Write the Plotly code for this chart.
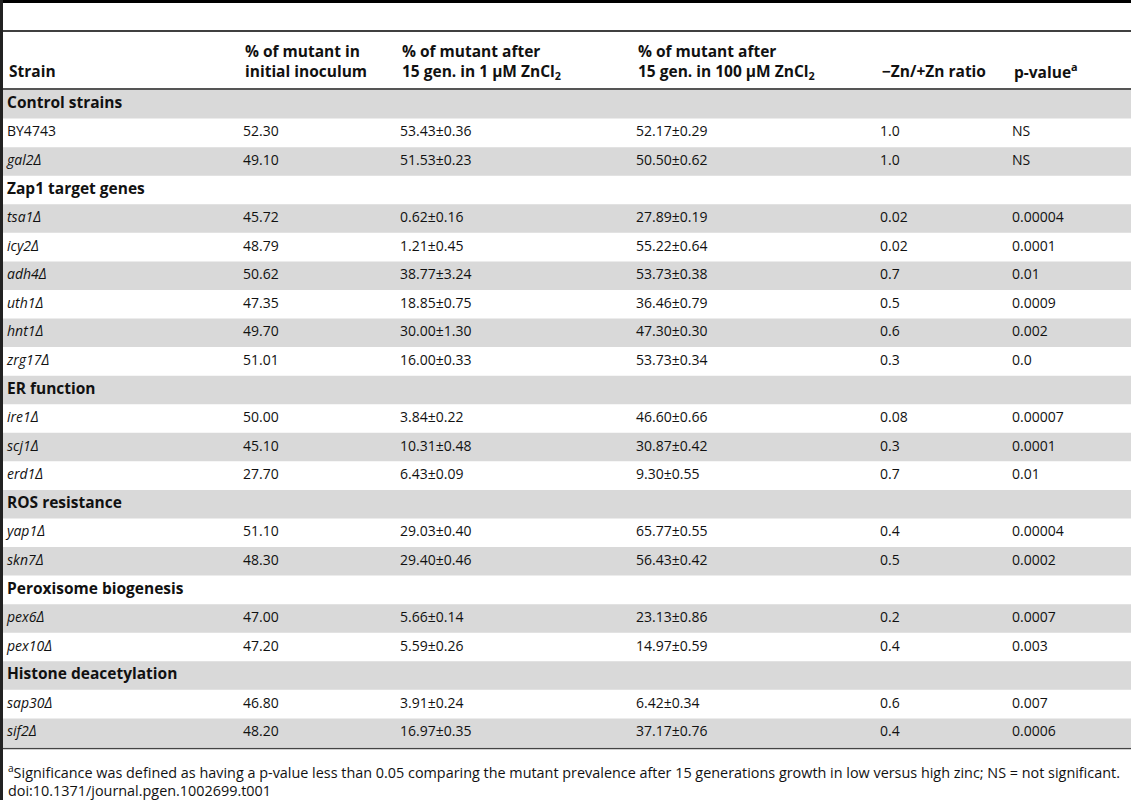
import plotly.graph_objects as go

# Table data
group_names = ["Control strains", "Zap1 target genes", "ER function",
               "ROS resistance", "Peroxisome biogenesis", "Histone deacetylation"]
strain = ["BY4743", "gal2Δ",
          "tsa1Δ", "icy2Δ", "adh4Δ", "uth1Δ", "hnt1Δ", "zrg17Δ",
          "ire1Δ", "scj1Δ", "erd1Δ",
          "yap1Δ", "skn7Δ",
          "pex6Δ", "pex10Δ",
          "sap30Δ", "sif2Δ"]
group = [0, 0, 1, 1, 1, 1, 1, 1, 2, 2, 2, 3, 3, 4, 4, 5, 5]
inoculum = [52.30, 49.10, 45.72, 48.79, 50.62, 47.35, 49.70, 51.01,
            50.00, 45.10, 27.70, 51.10, 48.30, 47.00, 47.20, 46.80, 48.20]
low_zn_mean = [53.43, 51.53, 0.62, 1.21, 38.77, 18.85, 30.00, 16.00,
               3.84, 10.31, 6.43, 29.03, 29.40, 5.66, 5.59, 3.91, 16.97]
low_zn_sd = [0.36, 0.23, 0.16, 0.45, 3.24, 0.75, 1.30, 0.33,
             0.22, 0.48, 0.09, 0.40, 0.46, 0.14, 0.26, 0.24, 0.35]
high_zn_mean = [52.17, 50.50, 27.89, 55.22, 53.73, 36.46, 47.30, 53.73,
                46.60, 30.87, 9.30, 65.77, 56.43, 23.13, 14.97, 6.42, 37.17]
high_zn_sd = [0.29, 0.62, 0.19, 0.64, 0.38, 0.79, 0.30, 0.34,
              0.66, 0.42, 0.55, 0.55, 0.42, 0.86, 0.59, 0.34, 0.76]
ratio = ["1.0", "1.0", "0.02", "0.02", "0.7", "0.5", "0.6", "0.3",
         "0.08", "0.3", "0.7", "0.4", "0.5", "0.2", "0.4", "0.6", "0.4"]
p_value = ["NS", "NS", "0.00004", "0.0001", "0.01", "0.0009", "0.002", "0.0",
           "0.00007", "0.0001", "0.01", "0.00004", "0.0002", "0.0007", "0.003",
           "0.007", "0.0006"]

headers = ["Strain",
           "% of mutant in<br>initial inoculum",
           "% of mutant after<br>15 gen. in 1 μM ZnCl<sub>2</sub>",
           "% of mutant after<br>15 gen. in 100 μM ZnCl<sub>2</sub>",
           "−Zn/+Zn ratio",
           "p-value<sup>a</sup>"]

footnote = ("<sup>a</sup>Significance was defined as having a p-value less than 0.05 "
            "comparing the mutant prevalence after 15 generations growth in low versus "
            "high zinc; NS = not significant.")
doi = "doi:10.1371/journal.pgen.1002699.t001"

# build the rows, with a bold row for each group
cols = [[] for _ in range(6)]
is_group = []
last = -1
for i in range(len(strain)):
    if group[i] != last:
        last = group[i]
        cols[0].append("<b>" + group_names[last] + "</b>")
        for c in range(1, 6):
            cols[c].append("")
        is_group.append(True)
    cols[0].append("<i>" + strain[i] + "</i>" if strain[i].endswith("Δ") else strain[i])
    cols[1].append(f"{inoculum[i]:.2f}")
    cols[2].append(f"{low_zn_mean[i]:.2f}±{low_zn_sd[i]:.2f}")
    cols[3].append(f"{high_zn_mean[i]:.2f}±{high_zn_sd[i]:.2f}")
    cols[4].append(ratio[i])
    cols[5].append(p_value[i])
    is_group.append(False)

n_rows = len(cols[0])
rows = list(range(n_rows))

W, H = 1131, 800
col_x = [7, 243, 400, 636, 880, 1012]   # left edge of the text in each column
txt = "#111"

fig = go.Figure()

# striped rows
for r in rows:
    if r % 2 == 0:
        fig.add_shape(type="rect", xref="paper", yref="y", x0=0, x1=1,
                      y0=r - 0.5, y1=r + 0.5, fillcolor="#d9d9d9",
                      line_width=0, layer="below")

# cell texts
for c in range(6):
    fig.add_trace(go.Scatter(
        x=[col_x[c]] * n_rows, y=rows, text=cols[c],
        mode="text", textposition="middle right", hoverinfo="skip",
        textfont=dict(family="Open Sans", color=txt,
                      size=[15.5 if g else 14 for g in is_group]),
        showlegend=False,
    ))

# header
for c in range(6):
    two = "<br>" in headers[c]
    fig.add_annotation(text="<b>" + headers[c] + "</b>", xref="x", yref="paper",
                       x=col_x[c], y=1 - (61 if two else 71) / H,
                       xanchor="left", yanchor="middle", align="left", showarrow=False,
                       font=dict(family="Open Sans", size=15.5, color=txt))

# rules
fig.add_shape(type="line", xref="paper", yref="paper", x0=0, x1=1,
              y0=1 - 1.5 / H, y1=1 - 1.5 / H, line=dict(color="black", width=3))
fig.add_shape(type="line", xref="paper", yref="paper", x0=0, x1=1,
              y0=1 - 31 / H, y1=1 - 31 / H, line=dict(color="black", width=1.5))
fig.add_shape(type="line", xref="paper", yref="paper", x0=0, x1=1,
              y0=1 - 89 / H, y1=1 - 89 / H, line=dict(color="#555", width=2))
fig.add_shape(type="line", xref="paper", yref="paper", x0=0, x1=1,
              y0=1 - 748.5 / H, y1=1 - 748.5 / H, line=dict(color="#444", width=1.5))
fig.add_shape(type="line", xref="paper", yref="paper", x0=1.5 / W, x1=1.5 / W,
              y0=0, y1=1, line=dict(color="#222", width=3))

fig.add_annotation(text=footnote, xref="paper", yref="paper", x=6 / W, y=1 - 771 / H,
                   xanchor="left", yanchor="middle", showarrow=False,
                   font=dict(family="Open Sans", size=14.4, color=txt))
fig.add_annotation(text=doi, xref="paper", yref="paper", x=6 / W, y=1 - 790 / H,
                   xanchor="left", yanchor="middle", showarrow=False,
                   font=dict(family="Open Sans", size=14.4, color=txt))

fig.update_layout(
    width=W, height=H, margin=dict(l=0, r=0, t=0, b=0),
    paper_bgcolor="white", plot_bgcolor="white",
    xaxis=dict(range=[0, W], visible=False, fixedrange=True),
    yaxis=dict(range=[n_rows - 0.5, -0.5], visible=False, fixedrange=True,
               domain=[1 - 747 / H, 1 - 90 / H]),
)
fig.write_html("out.html", config={"displayModeBar": False},
               post_script="document.body.style.margin='0';")
